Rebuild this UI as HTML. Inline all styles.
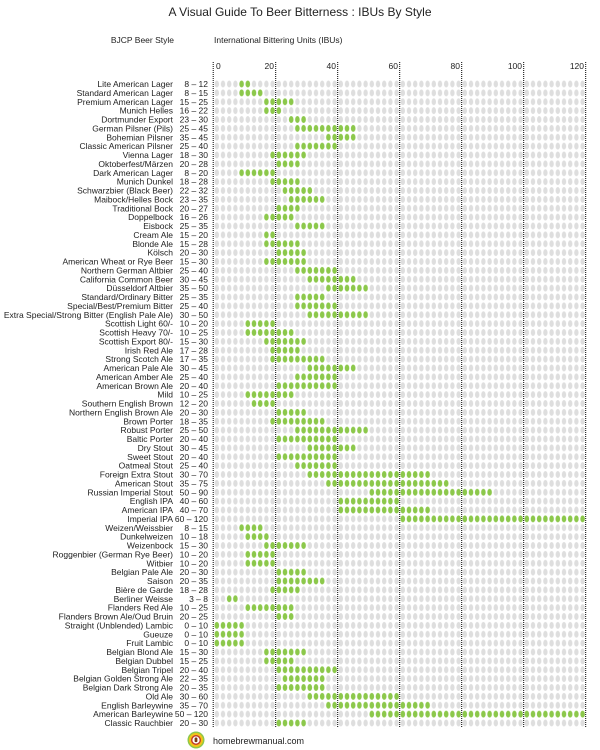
<!DOCTYPE html>
<html><head><meta charset="utf-8"><style>
html,body{margin:0;padding:0;background:#fff}
svg{display:block}
text{font-family:"Liberation Sans",Arial,sans-serif;fill:#222}
</style></head><body>
<svg width="600" height="750" viewBox="0 0 600 750" xmlns="http://www.w3.org/2000/svg">
<defs>
<pattern id="g" patternUnits="userSpaceOnUse" x="213.7" y="79.56" width="6.2" height="8.875"><ellipse cx="3.1" cy="4.44" rx="2.2" ry="3.4" fill="#dedede"/></pattern>
<pattern id="v" patternUnits="userSpaceOnUse" x="213.7" y="79.56" width="6.2" height="8.875"><ellipse cx="3.1" cy="4.44" rx="2.3" ry="3.5" fill="#8cc84b"/></pattern>
</defs>
<text x="300" y="16" font-size="12" text-anchor="middle">A Visual Guide To Beer Bitterness : IBUs By Style</text>
<text x="174" y="43" font-size="8.5" text-anchor="end">BJCP Beer Style</text>
<text x="214" y="43" font-size="8.5">International Bittering Units (IBUs)</text>
<rect x="213.7" y="79.56" width="372" height="648.9" fill="url(#g)"/>
<g id="greens"></g>
<g stroke="#000" stroke-width="1" stroke-dasharray="1,1">
<line x1="213.2" y1="62" x2="213.2" y2="728"/><line x1="275.7" y1="62" x2="275.7" y2="728"/><line x1="337.7" y1="62" x2="337.7" y2="728"/><line x1="399.7" y1="62" x2="399.7" y2="728"/><line x1="461.7" y1="62" x2="461.7" y2="728"/><line x1="523.7" y1="62" x2="523.7" y2="728"/><line x1="585.7" y1="62" x2="585.7" y2="728"/>
</g>
<g font-size="8.5">
<text x="216" y="69">0</text>
<text x="274" y="69" text-anchor="end">20</text>
<text x="336" y="69" text-anchor="end">40</text>
<text x="398" y="69" text-anchor="end">60</text>
<text x="460" y="69" text-anchor="end">80</text>
<text x="522" y="69" text-anchor="end">100</text>
<text x="584" y="69" text-anchor="end">120</text>
</g>
<g id="rows" font-size="8.5"></g>
<circle cx="196" cy="740" r="8.5" fill="#8cc84b"/>
<circle cx="196" cy="740" r="7" fill="#f3c318"/>
<circle cx="196" cy="740" r="5" fill="#c0392b"/>
<circle cx="196" cy="740" r="3.6" fill="#fff"/>
<rect x="194.6" y="737.5" width="2.8" height="4.6" rx="1" fill="#7a3b10"/>
<text x="213" y="744" font-size="9">homebrewmanual.com</text>
</svg>
<script>
var d=[["Lite American Lager",8,12],["Standard American Lager",8,15],["Premium American Lager",15,25],["Munich Helles",16,22],["Dortmunder Export",23,30],["German Pilsner (Pils)",25,45],["Bohemian Pilsner",35,45],["Classic American Pilsner",25,40],["Vienna Lager",18,30],["Oktoberfest/Märzen",20,28],["Dark American Lager",8,20],["Munich Dunkel",18,28],["Schwarzbier (Black Beer)",22,32],["Maibock/Helles Bock",23,35],["Traditional Bock",20,27],["Doppelbock",16,26],["Eisbock",25,35],["Cream Ale",15,20],["Blonde Ale",15,28],["Kölsch",20,30],["American Wheat or Rye Beer",15,30],["Northern German Altbier",25,40],["California Common Beer",30,45],["Düsseldorf Altbier",35,50],["Standard/Ordinary Bitter",25,35],["Special/Best/Premium Bitter",25,40],["Extra Special/Strong Bitter (English Pale Ale)",30,50],["Scottish Light 60/-",10,20],["Scottish Heavy 70/-",10,25],["Scottish Export 80/-",15,30],["Irish Red Ale",17,28],["Strong Scotch Ale",17,35],["American Pale Ale",30,45],["American Amber Ale",25,40],["American Brown Ale",20,40],["Mild",10,25],["Southern English Brown",12,20],["Northern English Brown Ale",20,30],["Brown Porter",18,35],["Robust Porter",25,50],["Baltic Porter",20,40],["Dry Stout",30,45],["Sweet Stout",20,40],["Oatmeal Stout",25,40],["Foreign Extra Stout",30,70],["American Stout",35,75],["Russian Imperial Stout",50,90],["English IPA",40,60],["American IPA",40,70],["Imperial IPA",60,120],["Weizen/Weissbier",8,15],["Dunkelweizen",10,18],["Weizenbock",15,30],["Roggenbier (German Rye Beer)",10,20],["Witbier",10,20],["Belgian Pale Ale",20,30],["Saison",20,35],["Bière de Garde",18,28],["Berliner Weisse",3,8],["Flanders Red Ale",10,25],["Flanders Brown Ale/Oud Bruin",20,25],["Straight (Unblended) Lambic",0,10],["Gueuze",0,10],["Fruit Lambic",0,10],["Belgian Blond Ale",15,30],["Belgian Dubbel",15,25],["Belgian Tripel",20,40],["Belgian Golden Strong Ale",22,35],["Belgian Dark Strong Ale",20,35],["Old Ale",30,60],["English Barleywine",35,70],["American Barleywine",50,120],["Classic Rauchbier",20,30]];
var ns="http://www.w3.org/2000/svg",R=document.getElementById("rows"),G=document.getElementById("greens");
d.forEach(function(r,i){var y=84+8.875*i;
var t=document.createElementNS(ns,"text");t.setAttribute("x",173);t.setAttribute("y",y+3);t.setAttribute("text-anchor","end");t.textContent=r[0];R.appendChild(t);
t=document.createElementNS(ns,"text");t.setAttribute("x",208);t.setAttribute("y",y+3);t.setAttribute("text-anchor","end");t.textContent=r[1]+" \u2013 "+r[2];R.appendChild(t);
var a=Math.ceil(r[1]/2),b=Math.ceil(r[2]/2);
var q=document.createElementNS(ns,"rect");q.setAttribute("x",213.7+6.2*a);q.setAttribute("y",y-4.44);q.setAttribute("width",6.2*(b-a));q.setAttribute("height",8.875);q.setAttribute("fill","#fff");G.appendChild(q);
q=document.createElementNS(ns,"rect");q.setAttribute("x",213.7+6.2*a);q.setAttribute("y",y-4.44);q.setAttribute("width",6.2*(b-a));q.setAttribute("height",8.875);q.setAttribute("fill","url(#v)");G.appendChild(q);});
</script>
</body></html>
